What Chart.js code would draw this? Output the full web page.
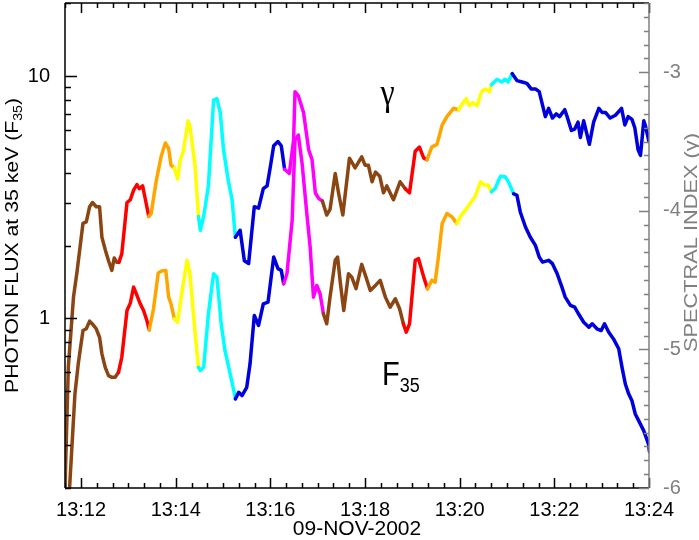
<!DOCTYPE html>
<html>
<head>
<meta charset="utf-8">
<script src="https://cdn.jsdelivr.net/npm/chart.js@4.4.0/dist/chart.umd.min.js"></script>
<style>
  html, body { margin: 0; padding: 0; background: #fff; }
</style>
</head>
<body>
<canvas id="chart" width="699" height="540"></canvas>
<script>
// Times are minutes after 13:00 UT, 09-Nov-2002
const gammaTime = [
    11.66, 11.73, 11.84, 11.91, 12.04, 12.11, 12.18, 12.24, 12.32, 12.39,
    12.44, 12.51, 12.58, 12.65, 12.70, 12.75, 12.80, 12.86, 12.97, 13.04,
    13.11, 13.18, 13.23, 13.30, 13.36, 13.43, 13.48, 13.59, 13.69, 13.78,
    13.85, 13.90, 13.97, 14.04, 14.09, 14.16, 14.26, 14.30, 14.41, 14.48,
    14.52, 14.59, 14.69, 14.80, 14.87, 14.94, 15.01, 15.11, 15.19, 15.26,
    15.36, 15.45, 15.54, 15.66, 15.75, 15.85, 15.93, 16.00, 16.07, 16.16,
    16.23, 16.30, 16.40, 16.49, 16.52, 16.59, 16.70, 16.81, 16.88, 16.95,
    17.02, 17.10, 17.19, 17.26, 17.37, 17.44, 17.53, 17.67, 17.79, 17.93,
    18.00, 18.07, 18.15, 18.22, 18.31, 18.39, 18.46, 18.60, 18.74, 18.85,
    18.94, 19.06, 19.15, 19.24, 19.31, 19.41, 19.52, 19.63, 19.73, 19.87,
    19.98, 20.05, 20.14, 20.20, 20.27, 20.37, 20.46, 20.54, 20.63, 20.67,
    20.79, 20.89, 20.96, 21.02, 21.11, 21.21, 21.32, 21.42, 21.51, 21.60,
    21.68, 21.81, 21.88, 21.96, 22.04, 22.11, 22.22, 22.27, 22.36, 22.43,
    22.50, 22.55, 22.62, 22.74, 22.83, 22.94, 23.01, 23.08, 23.18, 23.29,
    23.42, 23.49, 23.56, 23.64, 23.70, 23.77, 23.82, 23.89, 23.92, 24.00
];
const gammaValue = [
    -6.00, -5.13, -4.62, -4.45, -4.09, -4.08, -3.97, -3.94, -3.97, -3.97,
    -4.19, -4.28, -4.36, -4.43, -4.34, -4.37, -4.37, -4.31, -3.94, -3.92,
    -3.85, -3.81, -3.84, -3.82, -3.92, -4.04, -4.02, -3.78, -3.61, -3.51,
    -3.55, -3.67, -3.69, -3.77, -3.64, -3.57, -3.35, -3.39, -3.68, -4.04,
    -4.14, -4.04, -3.82, -3.20, -3.19, -3.29, -3.56, -3.78, -3.92, -4.19,
    -4.14, -4.36, -4.38, -3.97, -3.98, -3.84, -3.82, -3.68, -3.53, -3.50,
    -3.53, -3.70, -3.73, -3.49, -3.14, -3.17, -3.29, -3.56, -3.63, -3.87,
    -3.91, -3.93, -4.03, -3.99, -3.73, -3.87, -4.03, -3.62, -3.69, -3.61,
    -3.67, -3.67, -3.79, -3.72, -3.75, -3.87, -3.82, -3.92, -3.79, -3.84,
    -3.87, -3.57, -3.54, -3.62, -3.63, -3.54, -3.52, -3.38, -3.32, -3.26,
    -3.27, -3.23, -3.19, -3.24, -3.22, -3.24, -3.14, -3.12, -3.14, -3.09,
    -3.05, -3.07, -3.05, -3.07, -3.01, -3.06, -3.07, -3.08, -3.12, -3.12,
    -3.14, -3.32, -3.26, -3.33, -3.30, -3.32, -3.27, -3.32, -3.42, -3.41,
    -3.36, -3.47, -3.35, -3.52, -3.36, -3.26, -3.29, -3.29, -3.33, -3.31,
    -3.26, -3.38, -3.32, -3.34, -3.40, -3.56, -3.60, -3.35, -3.38, -3.50
];
const fluxTime = [
    11.75, 11.87, 11.94, 12.04, 12.11, 12.18, 12.25, 12.32, 12.39, 12.44,
    12.51, 12.58, 12.65, 12.72, 12.79, 12.86, 12.97, 13.04, 13.11, 13.18,
    13.25, 13.32, 13.39, 13.44, 13.53, 13.63, 13.70, 13.79, 13.85, 13.90,
    13.97, 14.04, 14.13, 14.24, 14.30, 14.41, 14.48, 14.52, 14.59, 14.69,
    14.80, 14.87, 14.96, 15.04, 15.15, 15.22, 15.26, 15.33, 15.40, 15.50,
    15.57, 15.66, 15.75, 15.85, 15.95, 16.07, 16.16, 16.23, 16.28, 16.35,
    16.46, 16.52, 16.59, 16.67, 16.77, 16.84, 16.91, 16.98, 17.05, 17.12,
    17.19, 17.26, 17.37, 17.42, 17.48, 17.55, 17.65, 17.72, 17.81, 17.93,
    18.02, 18.11, 18.22, 18.32, 18.43, 18.53, 18.64, 18.73, 18.81, 18.87,
    18.94, 19.06, 19.13, 19.24, 19.32, 19.41, 19.48, 19.55, 19.63, 19.73,
    19.84, 19.94, 20.03, 20.12, 20.22, 20.32, 20.44, 20.51, 20.60, 20.67,
    20.75, 20.86, 20.96, 21.03, 21.14, 21.21, 21.28, 21.39, 21.49, 21.60,
    21.68, 21.75, 21.88, 21.96, 22.06, 22.16, 22.23, 22.34, 22.43, 22.51,
    22.62, 22.73, 22.80, 22.90, 22.99, 23.06, 23.15, 23.25, 23.36, 23.43,
    23.50, 23.57, 23.64, 23.71, 23.80, 23.89, 23.99, 24.01
];
const fluxValue = [
    0.19, 0.489, 0.650, 0.892, 0.907, 0.975, 0.944, 0.907, 0.837, 0.715,
    0.629, 0.581, 0.572, 0.572, 0.600, 0.692, 1.079, 1.157, 1.347, 1.245,
    1.150, 1.079, 0.981, 0.898, 1.097, 1.539, 1.569, 1.579, 1.225, 1.150,
    0.997, 0.965, 1.284, 1.737, 1.530, 0.865, 0.629, 0.610, 0.629, 1.046,
    1.530, 1.481, 0.951, 0.738, 0.591, 0.512, 0.466, 0.496, 0.481, 0.520,
    0.650, 1.029, 0.936, 1.150, 1.168, 1.792, 1.605, 1.579, 1.391, 1.530,
    2.541, 5.44, 5.71, 4.36, 2.708, 1.970, 1.225, 1.369, 1.265, 1.046,
    0.951, 1.225, 1.737, 1.792, 1.391, 1.079, 1.530, 1.481, 1.327, 1.672,
    1.481, 1.305, 1.369, 1.436, 1.225, 1.113, 1.206, 1.097, 0.951, 0.878,
    0.951, 1.737, 1.765, 1.481, 1.327, 1.436, 1.413, 1.792, 2.462, 2.708,
    2.622, 2.462, 2.665, 2.795, 2.978, 3.17, 3.66, 3.55, 3.55, 3.33,
    3.44, 3.86, 3.84, 3.66, 3.27, 3.22, 2.75, 2.384, 2.168, 2.003,
    1.792, 1.708, 1.737, 1.683, 1.530, 1.347, 1.225, 1.132, 1.113, 1.046,
    0.965, 0.921, 0.951, 0.907, 0.892, 0.951, 0.878, 0.824, 0.750, 0.629,
    0.537, 0.489, 0.458, 0.404, 0.373, 0.344, 0.303, 0.282
];

// colour of the curves changes at these times (same for both curves)
const segBreaks = [11.6, 12.79, 13.44, 13.97, 14.50, 15.26, 16.27, 17.10, 18.80, 19.31, 19.95, 20.67, 21.11];
const segColors = ['#8b4513', '#ff0000', '#ffa500', '#ffff00', '#00ffff', '#0000dd', '#ff00ff',
                   '#8b4513', '#ff0000', '#ffa500', '#ffff00', '#00ffff', '#0000dd'];

const xTicks = [12, 14, 16, 18, 20, 22, 24];
const fluxTicks = [1, 10];
const gammaTicks = [-6, -5, -4, -3];

const FONT = "'Liberation Sans', Arial, Helvetica, sans-serif";
const GRAY = '#808080';

function colorAt(t) {
    let c = segColors[0];
    for (let i = 0; i < segBreaks.length; i++) {
        if (t >= segBreaks[i]) c = segColors[i];
    }
    return c;
}

// draw a run of text pieces (for subscripts), optionally rotated / stretched
function drawParts(ctx, parts, o) {
    ctx.save();
    ctx.translate(o.x, o.y);
    if (o.angle) ctx.rotate(o.angle);
    ctx.fillStyle = o.color || '#000';
    ctx.textBaseline = 'alphabetic';
    ctx.textAlign = 'left';
    const fam = o.family || FONT;
    const widths = parts.map(p => {
        ctx.font = p.size + 'px ' + fam;
        return ctx.measureText(p.text).width;
    });
    const total = widths.reduce((a, b) => a + b, 0);
    const sx = o.length ? o.length / total : (o.sx || 1);
    ctx.scale(sx, o.sy || 1);
    let cx = o.align === 'left' ? 0 : -total / 2;
    parts.forEach((p, i) => {
        ctx.font = p.size + 'px ' + fam;
        ctx.fillText(p.text, cx, p.dy || 0);
        cx += widths[i];
    });
    ctx.restore();
}

// IDL style frame: inward ticks on all four sides, titles with subscripts
const framePlugin = {
    id: 'frame',
    afterDraw(chart) {
        const { ctx, chartArea: a, scales } = chart;
        const x = scales.x, y = scales.y, y1 = scales.y1;
        ctx.save();
        ctx.lineWidth = 1.5;

        // bottom + top ticks, minor every 20 s
        ctx.strokeStyle = '#000';
        ctx.beginPath();
        for (let k = 35; k <= 72; k++) {
            const t = k / 3;
            if (t <= x.min || t > x.max + 0.001) continue;
            const px = Math.round(x.getPixelForValue(t)) + 0.5;
            const len = (k % 6 === 0) ? 10 : 5;
            ctx.moveTo(px, a.bottom); ctx.lineTo(px, a.bottom - len);
            ctx.moveTo(px, a.top); ctx.lineTo(px, a.top + len);
        }
        // left log ticks
        [0.1, 1, 10].forEach(dec => {
            for (let m = 1; m <= 9; m++) {
                const v = m * dec;
                if (v < y.min || v > y.max) continue;
                const py = Math.round(y.getPixelForValue(v)) + 0.5;
                const len = m === 1 ? 12 : 6;
                ctx.moveTo(a.left, py); ctx.lineTo(a.left + len, py);
            }
        });
        // frame left, top, bottom
        ctx.moveTo(a.left, a.top); ctx.lineTo(a.left, a.bottom);
        ctx.moveTo(a.left, a.top); ctx.lineTo(a.right, a.top);
        ctx.moveTo(a.left, a.bottom); ctx.lineTo(a.right, a.bottom);
        ctx.stroke();

        // right axis (spectral index) in gray
        ctx.strokeStyle = GRAY;
        ctx.beginPath();
        for (let k = -60; k <= -25; k++) {
            const py = Math.round(y1.getPixelForValue(k / 10)) + 0.5;
            const len = (k % 10 === 0) ? 10 : 5;
            ctx.moveTo(a.right, py); ctx.lineTo(a.right - len, py);
        }
        ctx.moveTo(a.right, a.top); ctx.lineTo(a.right, a.bottom);
        ctx.stroke();
        ctx.restore();

        const midY = (a.top + a.bottom) / 2;
        drawParts(ctx, [
            { text: 'PHOTON FLUX at 35 keV (F', size: 18 },
            { text: '35', size: 12, dy: 4 },
            { text: ')', size: 18 }
        ], { x: 18, y: midY, angle: -Math.PI / 2, length: 295 });

        drawParts(ctx, [{ text: 'SPECTRAL INDEX (\u03b3)', size: 18 }],
            { x: 697, y: midY - 3, angle: -Math.PI / 2, length: 219, color: GRAY });

        drawParts(ctx, [{ text: '09-NOV-2002', size: 21 }],
            { x: (a.left + a.right) / 2, y: 535 });

        drawParts(ctx, [{ text: '\u03b3', size: 32 }],
            { x: 387.5, y: 105, sy: 1.17, family: "'Liberation Serif', 'Times New Roman', serif" });

        drawParts(ctx, [
            { text: 'F', size: 29 },
            { text: '35', size: 18, dy: 6 }
        ], { x: 382, y: 385, sy: 1.17, align: 'left' });
    }
};

// drop the label half-height padding Chart.js adds at the ends of each axis
function noEndPadding(s) {
    s.paddingTop = 0;
    s.paddingBottom = 0;
    s.paddingLeft = 0;
    s.paddingRight = 0;
}

const lineStyle = {
    borderWidth: 3.5,
    pointRadius: 0,
    tension: 0,
    borderJoinStyle: 'round',
    borderCapStyle: 'round',
    segment: {
        borderColor: c => colorAt((c.p0.parsed.x + c.p1.parsed.x) / 2)
    }
};

const ctx = document.getElementById('chart').getContext('2d');
new Chart(ctx, {
    type: 'line',
    data: {
        datasets: [
            Object.assign({
                label: 'F35',
                yAxisID: 'y',
                borderColor: segColors[0],
                data: fluxTime.map((t, i) => ({ x: t, y: fluxValue[i] }))
            }, lineStyle),
            Object.assign({
                label: 'gamma',
                yAxisID: 'y1',
                borderColor: segColors[0],
                data: gammaTime.map((t, i) => ({ x: t, y: gammaValue[i] }))
            }, lineStyle)
        ]
    },
    options: {
        responsive: false,
        animation: false,
        devicePixelRatio: 1,
        layout: { padding: { top: 3, left: 0, right: 0, bottom: 0 } },
        plugins: {
            legend: { display: false },
            tooltip: { enabled: false }
        },
        scales: {
            x: {
                type: 'linear',
                min: 11.66,
                max: 24,
                grid: { display: false },
                border: { display: false },
                afterBuildTicks: s => { s.ticks = xTicks.map(v => ({ value: v })); },
                afterFit: s => { s.height = 52; noEndPadding(s); },
                ticks: {
                    autoSkip: false,
                    maxRotation: 0,
                    padding: 2,
                    color: '#000',
                    font: { family: FONT, size: 20 },
                    callback: v => '13:' + String(v).padStart(2, '0')
                }
            },
            y: {
                type: 'logarithmic',
                position: 'left',
                min: 0.2,
                max: 20,
                grid: { display: false },
                border: { display: false },
                afterBuildTicks: s => { s.ticks = fluxTicks.map(v => ({ value: v })); },
                afterFit: s => { s.width = 65; noEndPadding(s); },
                ticks: {
                    padding: 7,
                    color: '#000',
                    font: { family: FONT, size: 20 },
                    callback: v => String(v)
                }
            },
            y1: {
                type: 'linear',
                position: 'right',
                min: -6,
                max: -2.5,
                grid: { display: false },
                border: { display: false },
                afterBuildTicks: s => { s.ticks = gammaTicks.map(v => ({ value: v })); },
                afterFit: s => { s.width = 50; noEndPadding(s); },
                ticks: {
                    padding: 6,
                    color: GRAY,
                    font: { family: FONT, size: 20 },
                    callback: v => String(v)
                }
            }
        }
    },
    plugins: [framePlugin]
});
</script>
</body>
</html>
